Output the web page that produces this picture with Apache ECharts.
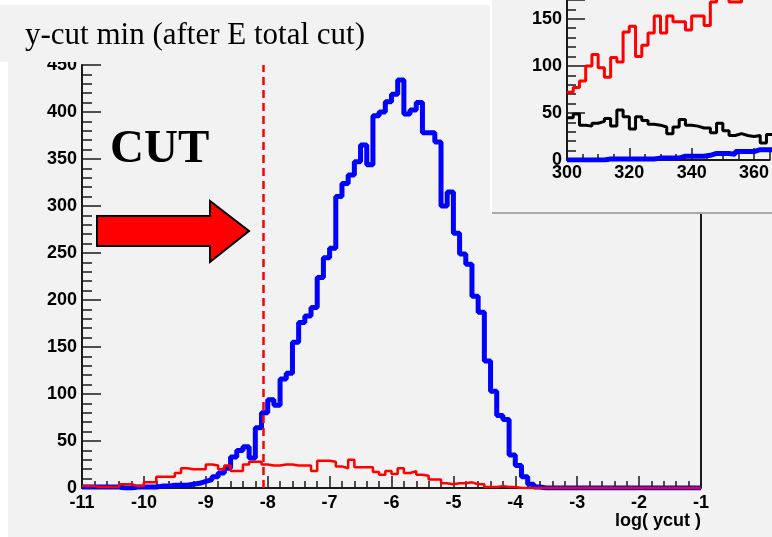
<!DOCTYPE html>
<html>
<head>
<meta charset="utf-8">
<script src="https://cdn.jsdelivr.net/npm/echarts@6/dist/echarts.min.js"></script>
<style>
html, body { margin: 0; padding: 0; background: #fff; }
#chart { width: 772px; height: 537px; }
</style>
</head>
<body>
<div id="chart"></div>
<script>
// main histogram: log(ycut), 100 bins of 0.1 from -11 to -1
const binStart = -11;
const binWidth = 0.1;
const blueCounts = [
  1, 1, 1, 1, 1, 1, 0, 0, 1, 1,
  1, 1, 2, 2, 3, 3, 3, 4, 5, 7,
  9, 12, 16, 21, 33, 40, 44, 32, 64, 80,
  94, 88, 116, 122, 155, 176, 183, 192, 224, 245,
  255, 310, 324, 333, 347, 365, 344, 396, 400, 411,
  419, 434, 398, 402, 410, 378, 378, 368, 300, 315,
  271, 249, 238, 204, 187, 135, 103, 77, 73, 35,
  24, 12, 4, 1, 0, 0, 0, 0, 0, 0,
  0, 0, 0, 0, 0, 0, 0, 0, 0, 0,
  0, 0, 0, 0, 0, 0, 0, 0, 0, 0
];
const redCounts = [
  2, 2, 1, 1, 1, 1, 4, 4, 2, 2,
  6, 6, 12, 12, 12, 16, 21, 20, 20, 20,
  25, 24, 20, 24, 18, 18, 25, 28, 28, 25,
  24, 24, 25, 25, 24, 24, 24, 18, 29, 29,
  28, 23, 21, 30, 22, 22, 22, 17, 14, 18,
  15, 21, 16, 18, 14, 13, 9, 9, 5, 4,
  5, 5, 6, 4, 4, 1, 1, 2, 1, 1,
  0, 0, 0, 0, 0, 0, 0, 0, 0, 0,
  0, 0, 0, 0, 0, 0, 0, 0, 0, 0,
  0, 0, 0, 0, 0, 0, 0, 0, 0, 0
];
const cutValue = -8.07;

// inset: bins of 2 from 300
const insetStart = 300;
const insetWidth = 2;
const insetRed = [72, 77, 84, 100, 112, 98, 88, 109, 104, 136, 142, 110, 122, 135, 153, 135, 153,
  147, 147, 138, 153, 153, 143, 168, 178, 178, 168, 168, 180, 185, 182, 188, 190];
const insetBlack = [45, 49, 37, 36, 39, 41, 44, 36, 53, 46, 33, 46, 42, 38, 37, 35, 28,
  35, 43, 37, 36, 34, 34, 29, 39, 31, 26, 28, 26, 25, 26, 18, 27];
const insetBlue = [0, 0, 0, 0, 0, 0, 1, 1, 1, 1, 1, 1, 1, 1, 2, 2, 2,
  2, 4, 4, 4, 4, 5, 7, 7, 7, 6, 9, 9, 9, 11, 11, 11];

function steps(start, width, counts) {
  let pts = counts.map((c, i) => [+(start + i * width).toFixed(3), c]);
  pts.push([+(start + counts.length * width).toFixed(3), counts[counts.length - 1]]);
  return pts;
}

const axisColor = '#1a1a1a';
const sans = '"Liberation Sans", Arial, sans-serif';
const serif = '"Liberation Serif", "Times New Roman", serif';
const lbl = { color: '#000', fontFamily: sans, fontWeight: 'bold', fontSize: 18 };

function valAxis(extra) {
  return Object.assign({
    type: 'value',
    splitLine: { show: false },
    axisLine: { show: true, onZero: false, lineStyle: { color: axisColor, width: 2 } },
    axisTick: { show: true, inside: true, lineStyle: { color: axisColor, width: 1.5 } },
    minorTick: { show: true, lineStyle: { color: axisColor, width: 1.5 } },
    axisLabel: Object.assign({}, lbl)
  }, extra);
}

let myChart = echarts.init(document.getElementById('chart'));
myChart.setOption({
  animation: false,
  backgroundColor: '#f2f2f2',
  grid: [
    { left: 82, right: 71, top: 65, bottom: 49 },
    { left: 567, right: 0, top: 0, bottom: 377, z: 20 }
  ],
  xAxis: [
    valAxis({
      gridIndex: 0, min: -11, max: -1, interval: 1,
      axisTick: { show: true, inside: true, length: 12, lineStyle: { color: axisColor, width: 1.5 } },
      minorTick: { show: true, splitNumber: 5, length: 7, lineStyle: { color: axisColor, width: 1.5 } },
      axisLabel: Object.assign({}, lbl, { margin: 6 })
    }),
    valAxis({
      gridIndex: 1, min: 300, max: 365, interval: 20, z: 20,
      axisTick: { show: true, inside: true, length: 12, lineStyle: { color: axisColor, width: 1.5 } },
      minorTick: { show: true, splitNumber: 4, length: 6, lineStyle: { color: axisColor, width: 1.5 } },
      axisLabel: Object.assign({}, lbl, { margin: 4, showMaxLabel: false })
    })
  ],
  yAxis: [
    valAxis({
      gridIndex: 0, min: 0, max: 450, interval: 50,
      axisTick: { show: true, inside: true, length: 19, lineStyle: { color: axisColor, width: 1.5 } },
      minorTick: { show: true, splitNumber: 5, length: 10, lineStyle: { color: axisColor, width: 1.5 } },
      axisLabel: Object.assign({}, lbl, { margin: 5 })
    }),
    valAxis({
      gridIndex: 1, min: 0, max: 170, interval: 50, z: 20,
      axisTick: { show: true, inside: true, length: 18, lineStyle: { color: axisColor, width: 1.5 } },
      minorTick: { show: true, splitNumber: 5, length: 9, lineStyle: { color: axisColor, width: 1.5 } },
      axisLabel: Object.assign({}, lbl, { margin: 5, showMaxLabel: false })
    })
  ],
  series: [
    {
      type: 'line', step: 'end', xAxisIndex: 0, yAxisIndex: 0, z: 2,
      data: steps(binStart, binWidth, blueCounts),
      showSymbol: false, lineStyle: { color: '#0000ff', width: 5 }
    },
    {
      type: 'line', step: 'end', xAxisIndex: 0, yAxisIndex: 0, z: 3,
      data: steps(binStart, binWidth, redCounts),
      showSymbol: false, lineStyle: { color: '#ff0000', width: 2.5 },
      markLine: {
        silent: true, symbol: 'none', label: { show: false },
        lineStyle: { color: '#ff0000', type: [8, 5], width: 2.5 },
        emphasis: { disabled: true },
        data: [{ xAxis: cutValue }]
      }
    },
    {
      type: 'line', step: 'end', xAxisIndex: 1, yAxisIndex: 1, z: 21,
      data: steps(insetStart, insetWidth, insetBlue),
      showSymbol: false, lineStyle: { color: '#0000ff', width: 5 }
    },
    {
      type: 'line', step: 'end', xAxisIndex: 1, yAxisIndex: 1, z: 22,
      data: steps(insetStart, insetWidth, insetBlack),
      showSymbol: false, lineStyle: { color: '#000000', width: 3 }
    },
    {
      type: 'line', step: 'end', xAxisIndex: 1, yAxisIndex: 1, z: 22,
      data: steps(insetStart, insetWidth, insetRed),
      showSymbol: false, lineStyle: { color: '#ff0000', width: 3 }
    }
  ],
  graphic: [
    // white margins of the canvas
    { type: 'rect', z: 0, shape: { x: 0, y: 0, width: 772, height: 5 }, style: { fill: '#fff' } },
    { type: 'rect', z: 0, shape: { x: 0, y: 62, width: 8, height: 475 }, style: { fill: '#fff' } },
    // frame right edge
    { type: 'line', z: 1, shape: { x1: 701, y1: 65, x2: 701, y2: 488 }, style: { stroke: axisColor, lineWidth: 2 } },
    // arrow + CUT
    {
      type: 'polygon', z: 5,
      shape: { points: [[97, 216], [210, 216], [210, 201], [249, 231], [210, 262], [210, 246], [97, 246]] },
      style: { fill: '#ff0000', stroke: '#000', lineWidth: 2 }
    },
    {
      type: 'text', z: 5, x: 110, y: 150,
      style: { text: 'CUT', font: 'bold 47px ' + serif, fill: '#000', verticalAlign: 'middle' }
    },
    {
      type: 'text', z: 5, x: 701, y: 521,
      style: { text: 'log( ycut )', font: 'bold 18px ' + sans, fill: '#000', align: 'right', verticalAlign: 'middle' }
    },
    // inset pad
    { type: 'rect', z: 10, shape: { x: 492, y: -2, width: 282, height: 214 }, style: { fill: '#f2f2f2' } },
    { type: 'line', z: 11, shape: { x1: 491, y1: 0, x2: 491, y2: 213 }, style: { stroke: '#fff', lineWidth: 2 } },
    { type: 'line', z: 11, shape: { x1: 492, y1: 213, x2: 772, y2: 213 }, style: { stroke: '#aaa', lineWidth: 2 } },
    // title box
    { type: 'rect', z: 30, shape: { x: 6, y: 5, width: 484, height: 57 }, style: { fill: '#f2f2f2' } },
    {
      type: 'text', z: 31, x: 25, y: 36,
      style: { text: 'y-cut min (after E total cut)', font: '31px ' + serif, fill: '#000', verticalAlign: 'middle' }
    }
  ]
});
</script>
</body>
</html>
